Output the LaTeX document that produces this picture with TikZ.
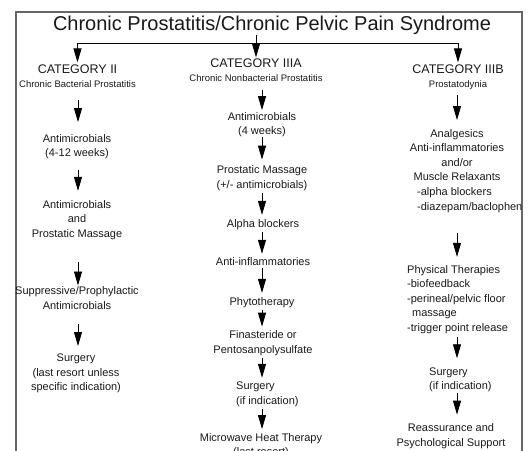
\documentclass[tikz,border=0pt]{standalone}
\usepackage{fontspec}
\setmainfont{Liberation Sans}
\usetikzlibrary{arrows.meta}

\tikzstyle{headline} = [inner sep=0pt,font=\fontsize{20}{24}\selectfont]
\tikzstyle{category} = [inner sep=0pt,align=center,font=\fontsize{9.5}{14}\selectfont]
\tikzstyle{treat} = [inner sep=0pt,align=center,font=\fontsize{11}{14.5}\selectfont]
\tikzstyle{treatleft} = [treat,align=left,anchor=west]
\tikzstyle{flow} = [->,line width=0.9pt,shorten <=2pt,shorten >=4pt]
\newcommand{\catname}[1]{{\fontsize{12.5}{14}\selectfont #1}}

\begin{document}
\begin{tikzpicture}[x=1pt,y=-1pt,>={Triangle[length=14pt,width=8pt]},text=black!90]

	\useasboundingbox (0,0) rectangle (530,450);
	\clip (0,0) rectangle (530,450);
	\draw[line width=2pt,black!60] (16,12) rectangle (522,470);

	% headline and categories
	\node (title) [headline] at (272,25) {Chronic Prostatitis/Chronic Pelvic Pain Syndrome};
	\coordinate (split) at (256,43);

	\node (catII) [category] at (77.5,76) {\catname{CATEGORY II}\\Chronic Bacterial Prostatitis};
	\node (catA) [category] at (256,70) {\catname{CATEGORY IIIA}\\Chronic Nonbacterial Prostatitis};
	\node (catB) [category] at (458,77) {\catname{CATEGORY IIIB}\\Prostatodynia};

	\coordinate (c1) at (78,0);
	\coordinate (c2) at (262,0);
	\coordinate (c3) at (457,0);

	% category II
	\node (l_1) [treat] at (77,146.7) {Antimicrobials\\(4-12 weeks)};
	\node (l_2) [treat] at (77,219.7) {Antimicrobials\\and\\Prostatic Massage};
	\node (l_3) [treat] at (77,298) {Suppressive/Prophylactic\\Antimicrobials};
	\node (l_4) [treat] at (76,373.7) {Surgery\\(last resort unless\\specific indication)};

	% category IIIA
	\node (m_1) [treat] at (262,124.7) {Antimicrobials\\(4 weeks)};
	\node (m_2) [treat] at (262,178.2) {Prostatic Massage\\(+/- antimicrobials)};
	\node (m_3) [treat] at (263,224.2) {Alpha blockers};
	\node (m_4) [treat] at (263,262) {Anti-inflammatories};
	\node (m_5) [treat] at (262,302.2) {Phytotherapy};
	\node (m_6) [treat] at (263,343.2) {Finasteride or\\Pentosanpolysulfate};
	\node (m_7) [treatleft] at (236,394.2) {Surgery\\(if indication)};
	\node (m_8) [treat] at (261,445.7) {Microwave Heat Therapy\\(last resort)};

	% category IIIB
	\node (r_1) [treat] at (457,155) {Analgesics\\Anti-inflammatories\\and/or\\Muscle Relaxants};
	\node (r_2) [treatleft] at (417,200.2) {-alpha blockers\\-diazepam/baclophen};
	\node (r_3) [treatleft] at (407,299.2) {Physical Therapies\\-biofeedback\\-perineal/pelvic floor\\\hspace*{5pt}massage\\-trigger point release};
	\node (r_4) [treatleft] at (429,379.7) {Surgery\\(if indication)};
	\node (r_5) [treat] at (451,436.2) {Reassurance and\\Psychological Support};

	\draw[line width=0.9pt] (title.south -| split) -- (split);
	\draw[line width=0.9pt] (catII |- split) -- (catB |- split);

	\path[flow]
		(catII |- split) edge[shorten <=0pt,shorten >=2pt] (catII)
		(catA |- split) edge[shorten <=0pt,shorten >=1pt] (catA)
		(catB |- split) edge[shorten <=0pt,shorten >=2pt] (catB)

		(catII.south -| c1) edge[shorten <=12pt,shorten >=12pt] (l_1.north -| c1)
		(l_1.south -| c1) edge[shorten <=10.5pt,shorten >=9pt] (l_2.north -| c1)
		(l_2.south -| c1) edge[shorten <=22.5pt,shorten >=1pt] (l_3.north -| c1)
		(l_3.south -| c1) edge[shorten <=15pt,shorten >=8pt] (l_4.north -| c1)

		(catA.south -| c2) edge[shorten <=8pt,shorten >=2pt] (m_1.north -| c2)
		(m_1.south -| c2) edge[shorten <=0pt,shorten >=6pt] (m_2.north -| c2)
		(m_2.south -| c2) edge (m_3.north -| c2)
		(m_3.south -| c2) edge (m_4.north -| c2)
		(m_4.south -| c2) edge (m_5.north -| c2)
		(m_5.south -| c2) edge (m_6.north -| c2)
		(m_6.south -| c2) edge (m_7.north -| c2)
		(m_7.south -| c2) edge (m_8.north -| c2)

		(catB.south -| c3) edge[shorten <=5pt,shorten >=9pt] (r_1.north -| c3)
		(r_2.south -| c3) edge[shorten <=20.5pt,shorten >=8pt] (r_3.north -| c3)
		(r_3.south -| c3) edge[shorten <=3.5pt,shorten >=9pt] (r_4.north -| c3)
		(r_4.south -| c3) edge[shorten <=1pt,shorten >=9pt] (r_5.north -| c3)
		;

\end{tikzpicture}
\end{document}
